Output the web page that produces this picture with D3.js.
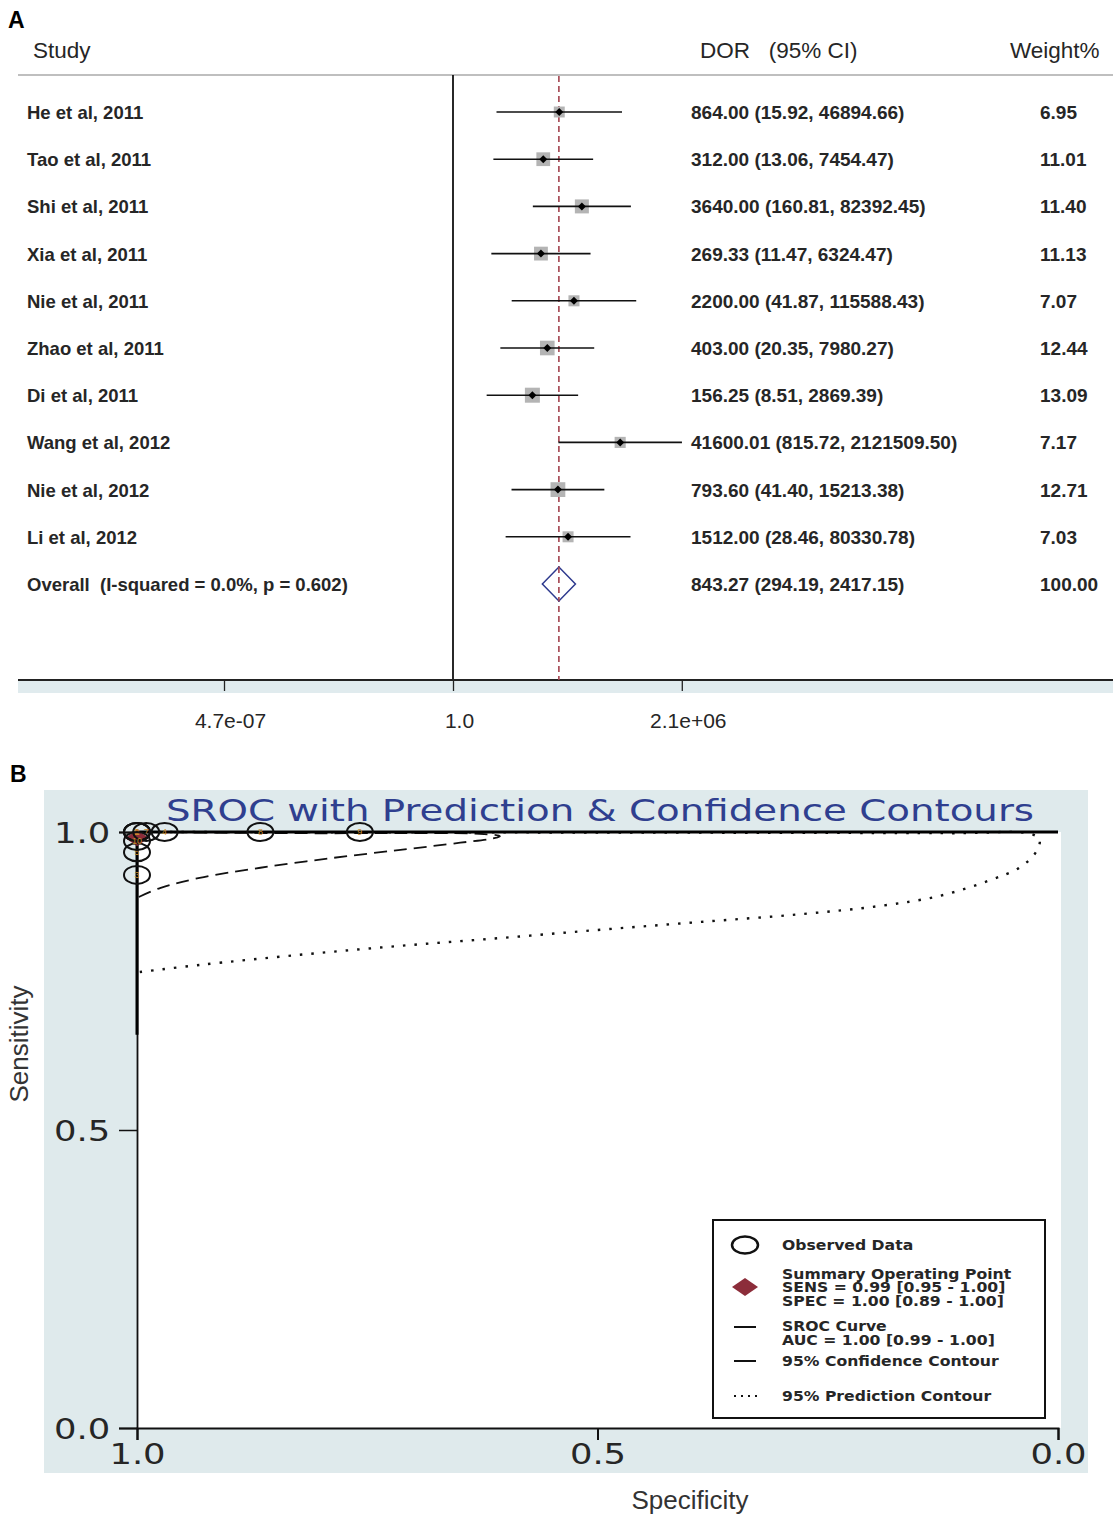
<!DOCTYPE html>
<html>
<head>
<meta charset="utf-8">
<script src="https://cdn.jsdelivr.net/npm/d3@7"></script>
<style>
  body { margin: 0; background: #fff; }
  svg { display: block; }
</style>
</head>
<body>
<div id="chart"></div>
<script>
// ---- Panel A data (forest plot) ----
const studies = [
  "He et al, 2011", "Tao et al, 2011", "Shi et al, 2011", "Xia et al, 2011",
  "Nie et al, 2011", "Zhao et al, 2011", "Di et al, 2011", "Wang et al, 2012",
  "Nie et al, 2012", "Li et al, 2012"
];
const dor = [864.00, 312.00, 3640.00, 269.33, 2200.00, 403.00, 156.25, 41600.01, 793.60, 1512.00];
const ciLow = [15.92, 13.06, 160.81, 11.47, 41.87, 20.35, 8.51, 815.72, 41.40, 28.46];
const ciHigh = [46894.66, 7454.47, 82392.45, 6324.47, 115588.43, 7980.27, 2869.39, 2121509.50, 15213.38, 80330.78];
const weights = [6.95, 11.01, 11.40, 11.13, 7.07, 12.44, 13.09, 7.17, 12.71, 7.03];
const overallLabel = "Overall  (I-squared = 0.0%, p = 0.602)";
const overallDor = 843.27;
const overallLow = 294.19;
const overallHigh = 2417.15;
const overallWeight = 100.00;
const forestTicks = [4.7e-7, 1, 2.1e6];
const forestTickLabels = ["4.7e-07", "1.0", "2.1e+06"];

// ---- Panel B data (SROC) ----
const obsLabels = ["1", "2", "3", "4", "5", "6", "7", "8", "9", "10"];
const obsSpec = [1.0, 1.0, 1.0, 0.97, 1.0, 1.0, 0.99, 0.866, 0.758, 1.0];
const obsSens = [1.0, 1.0, 0.928, 1.0, 0.966, 1.0, 1.0, 1.0, 1.0, 0.985];
const summarySpec = 1.0;
const summarySens = 0.99;
const srocSpec = [1.0, 1.0, 0.0];
const srocSens = [0.66, 1.0, 1.0];
const confSpec = [0.998, 0.975, 0.932, 0.866, 0.790, 0.714, 0.649, 0.611, 0.606, 0.628, 0.714, 0.823, 1.0];
const confSens = [0.891, 0.906, 0.923, 0.940, 0.956, 0.970, 0.982, 0.990, 0.993, 0.997, 0.998, 0.998, 1.0];
const predSpec = [0.997, 0.932, 0.823, 0.714, 0.606, 0.497, 0.389, 0.280, 0.193, 0.128, 0.074, 0.041, 0.024, 0.020, 0.030, 0.117, 1.0];
const predSens = [0.765, 0.777, 0.794, 0.809, 0.822, 0.836, 0.849, 0.862, 0.876, 0.893, 0.919, 0.941, 0.966, 0.987, 0.997, 0.998, 1.0];
const srocTicks = [0, 0.5, 1];
const legendGroups = [
  ["Observed Data"],
  ["Summary Operating Point", "SENS = 0.99 [0.95 - 1.00]", "SPEC = 1.00 [0.89 - 1.00]"],
  ["SROC Curve", "AUC = 1.00 [0.99 - 1.00]"],
  ["95% Confidence Contour"],
  ["95% Prediction Contour"]
];

const width = 1113;
const height = 1515;
const ink = "#262626";

const svg = d3
  .select("#chart")
  .append("svg")
  .attr("width", width)
  .attr("height", height)
  .style("font-family", "Liberation Sans, Arial, sans-serif");

// =================== Panel A ===================
const rowIdx = d3.range(studies.length + 1);
const yRow = d3.scalePoint().domain(rowIdx).range([112, 584]);
const xFor = d3.scaleLog().domain([1 / 2.128e6, 2.128e6]).range([224, 682]);
const sqSize = d3.scaleSqrt().domain([0, 13.09]).range([0, 15]);

svg.append("text").attr("x", 8).attr("y", 28).text("A")
  .style("font-size", "23px").style("font-weight", "bold");

// header
svg.append("text").attr("x", 33).attr("y", 58).text("Study").style("font-size", "22.5px").attr("fill", ink);
svg.append("text").attr("x", 700).attr("y", 58).text("DOR   (95% CI)").attr("xml:space", "preserve")
  .style("white-space", "pre").style("font-size", "22.5px").attr("fill", ink);
svg.append("text").attr("x", 1010).attr("y", 58).text("Weight%").style("font-size", "22.5px").attr("fill", ink);
svg.append("line").attr("x1", 18).attr("x2", width).attr("y1", 75).attr("y2", 75)
  .attr("stroke", "#aaa").attr("stroke-width", 1.5);

// axis band + axis
svg.append("rect").attr("x", 18).attr("y", 680).attr("width", width - 18).attr("height", 13).attr("fill", "#e0ebee");
svg.append("line").attr("x1", xFor(1)).attr("x2", xFor(1)).attr("y1", 75).attr("y2", 680)
  .attr("stroke", "#111").attr("stroke-width", 1.8);

const forestAxis = d3.axisBottom(xFor)
  .tickValues(forestTicks)
  .tickFormat((d, i) => forestTickLabels[i])
  .tickSize(11)
  .tickSizeOuter(0)
  .tickPadding(22);
const fa = svg.append("g").attr("transform", "translate(0,680)").call(forestAxis);
fa.select(".domain").remove();
fa.selectAll(".tick line").attr("stroke", "#222").attr("stroke-width", 1.3);
fa.selectAll(".tick text").attr("dx", 6).style("font-size", "21px").attr("fill", ink);
svg.append("line").attr("x1", 18).attr("x2", width).attr("y1", 680).attr("y2", 680)
  .attr("stroke", "#222").attr("stroke-width", 2);

// overall dashed line
svg.append("line").attr("x1", xFor(overallDor)).attr("x2", xFor(overallDor)).attr("y1", 76).attr("y2", 680)
  .attr("stroke", "#a3424e").attr("stroke-width", 1.6).attr("stroke-dasharray", "6,4");

const rows = svg.selectAll(".row").data(d3.range(studies.length)).enter().append("g").attr("class", "row");

rows.append("rect")
  .attr("x", (i) => xFor(dor[i]) - sqSize(weights[i]) / 2)
  .attr("y", (i) => yRow(i) - sqSize(weights[i]) / 2)
  .attr("width", (i) => sqSize(weights[i]))
  .attr("height", (i) => sqSize(weights[i]))
  .attr("fill", "#b4b4b4");

rows.append("line")
  .attr("x1", (i) => xFor(ciLow[i]))
  .attr("x2", (i) => xFor(ciHigh[i]))
  .attr("y1", (i) => yRow(i))
  .attr("y2", (i) => yRow(i))
  .attr("stroke", "#111")
  .attr("stroke-width", 1.6);

rows.append("path")
  .attr("d", (i) => {
    const cx = xFor(dor[i]), cy = yRow(i);
    return `M${cx - 4},${cy} L${cx},${cy - 4} L${cx + 4},${cy} L${cx},${cy + 4} Z`;
  })
  .attr("fill", "#000");

const rowFont = "18.5px";
const numFont = "19px";
rows.append("text").attr("x", 27).attr("y", (i) => yRow(i) + 7).text((i) => studies[i])
  .style("font-size", rowFont).style("font-weight", "bold").attr("fill", ink);
rows.append("text").attr("x", 691).attr("y", (i) => yRow(i) + 7)
  .text((i) => `${dor[i].toFixed(2)} (${ciLow[i].toFixed(2)}, ${ciHigh[i].toFixed(2)})`)
  .style("font-size", numFont).style("font-weight", "bold").attr("fill", ink);
rows.append("text").attr("x", 1040).attr("y", (i) => yRow(i) + 7).text((i) => weights[i].toFixed(2))
  .style("font-size", numFont).style("font-weight", "bold").attr("fill", ink);

// overall row
const oy = yRow(studies.length);
svg.append("path")
  .attr("d", `M${xFor(overallLow)},${oy} L${xFor(overallDor)},${oy - 17} L${xFor(overallHigh)},${oy} L${xFor(overallDor)},${oy + 17} Z`)
  .attr("fill", "#fff").attr("stroke", "#2e3a8e").attr("stroke-width", 1.5);
svg.append("line").attr("x1", xFor(overallDor)).attr("x2", xFor(overallDor)).attr("y1", oy - 17).attr("y2", oy + 17)
  .attr("stroke", "#a3424e").attr("stroke-width", 1.6).attr("stroke-dasharray", "6,4");
svg.append("text").attr("x", 27).attr("y", oy + 7).text(overallLabel).attr("xml:space", "preserve")
  .style("white-space", "pre").style("font-size", rowFont).style("font-weight", "bold").attr("fill", ink);
svg.append("text").attr("x", 691).attr("y", oy + 7)
  .text(`${overallDor.toFixed(2)} (${overallLow.toFixed(2)}, ${overallHigh.toFixed(2)})`)
  .style("font-size", numFont).style("font-weight", "bold").attr("fill", ink);
svg.append("text").attr("x", 1040).attr("y", oy + 7).text(overallWeight.toFixed(2))
  .style("font-size", numFont).style("font-weight", "bold").attr("fill", ink);

// =================== Panel B ===================
svg.append("text").attr("x", 10).attr("y", 782).text("B")
  .style("font-size", "23px").style("font-weight", "bold");

const xS = d3.scaleLinear().domain([1, 0]).range([137, 1058]);
const yS = d3.scaleLinear().domain([0, 1]).range([1428, 832]);

svg.append("rect").attr("x", 44).attr("y", 790).attr("width", 1044).attr("height", 683).attr("fill", "#dfeaec");
svg.append("rect").attr("x", 137).attr("y", 832).attr("width", 924).attr("height", 596).attr("fill", "#fff");

const srocFont = "DejaVu Sans, Verdana, sans-serif";
svg.append("text").attr("x", 600).attr("y", 821).attr("text-anchor", "middle")
  .text("SROC with Prediction & Confidence Contours")
  .attr("textLength", 868).attr("lengthAdjust", "spacingAndGlyphs")
  .style("font-family", srocFont).style("font-size", "30px").attr("fill", "#2f3f8f");

const xAxisS = d3.axisBottom(xS).tickValues(srocTicks).tickFormat(d3.format(".1f")).tickSize(12).tickPadding(3);
const gx = svg.append("g").attr("transform", "translate(0,1428)").call(xAxisS);
gx.select(".domain").attr("stroke", "#111").attr("stroke-width", 2);
gx.selectAll(".tick line").attr("stroke", "#111").attr("stroke-width", 2);
gx.selectAll(".tick text").attr("transform", "scale(1.22,1)").style("font-family", srocFont)
  .style("font-size", "29px").attr("fill", ink);

const yAxisS = d3.axisLeft(yS).tickValues(srocTicks).tickFormat(d3.format(".1f")).tickSize(18).tickPadding(4);
const gy = svg.append("g").attr("transform", "translate(137,0)").call(yAxisS);
gy.select(".domain").attr("stroke", "#111").attr("stroke-width", 1.8);
gy.selectAll(".tick line").attr("stroke", "#111").attr("stroke-width", 1.5);
gy.selectAll(".tick text").attr("dy", "0.36em").attr("transform", "scale(1.22,1)")
  .style("font-family", srocFont).style("font-size", "29px").attr("fill", ink);

svg.append("text").attr("transform", "translate(28,1044) rotate(-90)").attr("text-anchor", "middle")
  .text("Sensitivity").style("font-size", "26px").attr("fill", "#333");
svg.append("text").attr("x", 690).attr("y", 1509).attr("text-anchor", "middle")
  .text("Specificity").style("font-size", "26px").attr("fill", "#333");

const line = d3.line().x((d) => xS(d[0])).y((d) => yS(d[1]));
const smooth = d3.line().x((d) => xS(d[0])).y((d) => yS(d[1])).curve(d3.curveCatmullRom);

// prediction contour (dotted)
svg.append("path").datum(predSpec.map((s, i) => [s, predSens[i]]))
  .attr("d", smooth).attr("fill", "none").attr("stroke", "#111").attr("stroke-width", 2.4)
  .attr("stroke-dasharray", "2.5,9");

// confidence contour (dashed)
svg.append("path").datum(confSpec.map((s, i) => [s, confSens[i]]))
  .attr("d", smooth).attr("fill", "none").attr("stroke", "#111").attr("stroke-width", 1.8)
  .attr("stroke-dasharray", "13,7");

// SROC curve
svg.append("path").datum(srocSpec.map((s, i) => [s, srocSens[i]]))
  .attr("d", line).attr("fill", "none").attr("stroke", "#000").attr("stroke-width", 3);

// summary point
const sx = xS(summarySpec), sy = yS(summarySens);
svg.append("path")
  .attr("d", `M${sx - 12},${sy} L${sx},${sy - 8} L${sx + 12},${sy} L${sx},${sy + 8} Z`)
  .attr("fill", "#8c2d3a");

// observed data
const obs = svg.selectAll(".obs").data(obsLabels).enter().append("g").attr("class", "obs");
obs.append("ellipse")
  .attr("cx", (d, i) => xS(obsSpec[i]))
  .attr("cy", (d, i) => yS(obsSens[i]))
  .attr("rx", 13).attr("ry", 9)
  .attr("fill", "none").attr("stroke", "#111").attr("stroke-width", 2);
obs.append("text")
  .attr("x", (d, i) => xS(obsSpec[i]))
  .attr("y", (d, i) => yS(obsSens[i]) + 3)
  .attr("text-anchor", "middle")
  .text((d) => d)
  .style("font-size", "9px").attr("fill", "#c98a2c");

// legend
const lg = svg.append("g").attr("transform", "translate(713,1220)");
lg.append("rect").attr("width", 332).attr("height", 198).attr("fill", "#fff").attr("stroke", "#111").attr("stroke-width", 2);

const groupY = [25, 67, 113, 141, 176];
const lineGap = 13.5;
lg.append("ellipse").attr("cx", 32).attr("cy", groupY[0]).attr("rx", 13).attr("ry", 8.5)
  .attr("fill", "#fff").attr("stroke", "#111").attr("stroke-width", 2.5);
lg.append("path").attr("d", `M19,${groupY[1]} L32,${groupY[1] - 9} L45,${groupY[1]} L32,${groupY[1] + 9} Z`).attr("fill", "#8c2d3a");
lg.append("line").attr("x1", 21).attr("x2", 43).attr("y1", groupY[2] - 6).attr("y2", groupY[2] - 6).attr("stroke", "#111").attr("stroke-width", 2);
lg.append("line").attr("x1", 21).attr("x2", 43).attr("y1", groupY[3]).attr("y2", groupY[3]).attr("stroke", "#111").attr("stroke-width", 2);
lg.append("line").attr("x1", 21).attr("x2", 45).attr("y1", groupY[4]).attr("y2", groupY[4]).attr("stroke", "#111").attr("stroke-width", 2)
  .attr("stroke-dasharray", "2,5");

legendGroups.forEach((lines, g) => {
  const top = groupY[g] - ((lines.length - 1) * lineGap) / 2 + 5;
  lines.forEach((txt, k) => {
    lg.append("text")
      .attr("transform", `translate(69,${top + k * lineGap}) scale(1.16,1)`)
      .text(txt)
      .style("font-family", srocFont).style("font-size", "13.5px").style("font-weight", "bold").attr("fill", ink);
  });
});
</script>
</body>
</html>
